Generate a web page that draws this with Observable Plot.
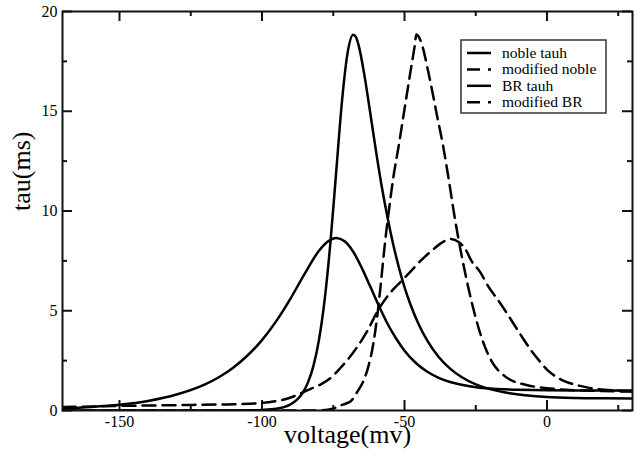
<!DOCTYPE html>
<html>
<head>
<meta charset="utf-8">
<script src="https://cdn.jsdelivr.net/npm/d3@7"></script>
<script src="https://cdn.jsdelivr.net/npm/@observablehq/plot@0.6"></script>
<style>
  html, body { margin: 0; padding: 0; background: #fff; }
  #chart { width: 636px; height: 453px; }
</style>
</head>
<body>
<div id="chart"></div>
<script>
// h-gate inactivation time constants (ms) against membrane voltage (mV)
const nobleV   = [-170,-160,-150,-140,-130,-120,-115,-110,-105,-100,-95,-90,-85,-80,-77,-74,-71,-68,-65,-62,-59,-56,-53,-50,-46,-42,-38,-34,-30,-25,-20,-15,-10,0,10,20,30];
const nobleTau = [0.11,0.18,0.29,0.48,0.80,1.31,1.68,2.16,2.77,3.53,4.48,5.61,6.86,8.01,8.46,8.65,8.48,7.96,7.15,6.21,5.25,4.36,3.62,3.00,2.38,1.94,1.64,1.43,1.29,1.17,1.10,1.06,1.04,1.01,1.00,1.00,1.00];

const modNobleV   = [-170,-150,-130,-115,-107,-100,-96,-91,-87.5,-83.5,-79.5,-76,-72.5,-67,-63,-59.5,-55,-51,-47,-44,-40.5,-37,-34,-31,-28.5,-26.5,-23.5,-20.5,-17.5,-14.5,-11.5,-8.5,-5.5,-2.5,0,3,6.5,10,14,18,24,30];
const modNobleTau = [0.17,0.23,0.27,0.30,0.32,0.38,0.45,0.60,0.79,1.05,1.30,1.62,2.13,3.10,4.00,4.97,5.90,6.50,7.10,7.55,8.00,8.40,8.60,8.45,8.05,7.50,6.95,6.20,5.60,4.97,4.30,3.63,3.00,2.46,2.05,1.71,1.45,1.29,1.16,1.07,1.00,0.96];

const brV   = [-170,-120,-105,-100,-95,-90,-88,-86,-84,-82,-80,-78,-76,-74,-72,-70,-68,-67,-66,-64,-62,-60,-58,-56,-54,-52,-50,-48,-45,-42,-38,-34,-30,-25,-20,-15,-10,-5,0,10,20,30];
const brTau = [0,0,0.01,0.03,0.09,0.31,0.51,0.83,1.36,2.21,3.55,5.57,8.40,11.9,15.4,17.9,18.84,18.71,18.25,16.75,14.9,13.0,11.24,9.71,8.35,7.19,6.19,5.35,4.31,3.50,2.68,2.10,1.68,1.31,1.07,0.91,0.80,0.73,0.68,0.63,0.61,0.60];

const modBrV   = [-170,-100,-85,-80,-77,-74.5,-72.5,-70.5,-68.8,-66.5,-64.5,-62.5,-61,-59.5,-58.2,-57,-55.5,-54,-52,-50,-48,-46.5,-45.8,-44,-41.7,-38.2,-36.5,-34.5,-32.3,-30,-27.6,-25.3,-22.9,-19.4,-14.7,-7.6,0,6.5,15,30];
const modBrTau = [0,0,0,0.01,0.04,0.12,0.25,0.35,0.47,0.95,1.45,2.3,3.3,4.8,6.5,8.2,10.0,11.6,13.3,15.1,16.9,18.2,18.85,18.4,17.0,14.5,13.3,11.6,9.6,7.8,6.15,4.8,3.63,2.46,1.71,1.29,1.12,1.04,0.99,0.95];

const seriesNames = ["noble tauh", "modified noble", "BR tauh", "modified BR"];

// axis ticks
const xMajor = [-150, -100, -50, 0];
const xMinor = [-125, -75, -25, 25];
const yMajor = [0, 5, 10, 15, 20];
const yMinor = [2.5, 7.5, 12.5, 17.5];

const W = 636, H = 453;
const M = {top: 11, right: 4, bottom: 43, left: 62};
const frameW = W - M.left - M.right;
const frameH = H - M.top - M.bottom;
const FONT = "Liberation Serif, Times New Roman, serif";
const DASH = "13,7";

const series = [
  {name: seriesNames[0], v: nobleV, tau: nobleTau, dash: null},
  {name: seriesNames[1], v: modNobleV, tau: modNobleTau, dash: DASH},
  {name: seriesNames[2], v: brV, tau: brTau, dash: null},
  {name: seriesNames[3], v: modBrV, tau: modBrTau, dash: DASH}
].map(s => ({...s, rows: s.v.map((v, i) => ({v, tau: s.tau[i]}))}));

const tickStyle = {stroke: "#111", strokeWidth: 2};

const chart = Plot.plot({
  width: W,
  height: H,
  marginTop: M.top,
  marginRight: M.right,
  marginBottom: M.bottom,
  marginLeft: M.left,
  style: {fontFamily: FONT, background: "#fff", color: "#000"},
  x: {domain: [-170, 30]},
  y: {domain: [0, 20]},
  marks: [
    // inward ticks on all four sides
    Plot.ruleX(xMajor, {x: d => d, insetTop: frameH - 10, ...tickStyle}),
    Plot.ruleX(xMinor, {x: d => d, insetTop: frameH - 5, ...tickStyle}),
    Plot.ruleX(xMajor, {x: d => d, insetBottom: frameH - 10, ...tickStyle}),
    Plot.ruleX(xMinor, {x: d => d, insetBottom: frameH - 5, ...tickStyle}),
    Plot.ruleY(yMajor, {y: d => d, insetRight: frameW - 10, ...tickStyle}),
    Plot.ruleY(yMinor, {y: d => d, insetRight: frameW - 5, ...tickStyle}),
    Plot.ruleY(yMajor, {y: d => d, insetLeft: frameW - 10, ...tickStyle}),
    Plot.ruleY(yMinor, {y: d => d, insetLeft: frameW - 5, ...tickStyle}),
    Plot.axisX(xMajor, {tickSize: 0, tickPadding: 5, fontSize: 16, label: null, tickFormat: d => String(d)}),
    Plot.axisY(yMajor, {tickSize: 0, tickPadding: 5, fontSize: 16, label: null, tickFormat: d => String(d)}),
    Plot.text(["voltage(mv)"], {frameAnchor: "bottom", dy: 32, fontSize: 26, fontFamily: FONT}),
    Plot.text(["tau(ms)"], {frameAnchor: "left", rotate: -90, dx: -41, fontSize: 26, fontFamily: FONT}),
    ...series.map(s => Plot.line(s.rows, {
      x: "v", y: "tau", curve: "monotone-x", stroke: "#000", strokeWidth: 2.5,
      strokeDasharray: s.dash, clip: true
    })),
    Plot.frame({stroke: "#111", strokeWidth: 2})
  ]
});

// legend box inside the upper-right corner of the frame
const svg = d3.select(chart);
const box = {x: 461, y: 40, w: 145, h: 73};
const legend = svg.append("g").attr("class", "legend");
legend.append("rect")
  .attr("x", box.x).attr("y", box.y).attr("width", box.w).attr("height", box.h)
  .attr("fill", "#fff").attr("stroke", "#333").attr("stroke-width", 1.5);
const item = legend.selectAll("g.item").data(series).join("g")
  .attr("class", "item")
  .attr("transform", (d, i) => `translate(${box.x + 6},${box.y + 13 + i * 16.4})`);
item.append("line")
  .attr("x1", 0).attr("x2", 24).attr("y1", 0).attr("y2", 0)
  .attr("stroke", "#000").attr("stroke-width", 2.5)
  .attr("stroke-dasharray", d => d.dash ? "13,8" : null);
item.append("text")
  .attr("x", 35).attr("y", 0).attr("dy", "0.32em")
  .attr("text-anchor", "start")
  .attr("font-family", FONT).attr("font-size", 15.5)
  .attr("fill", "#000")
  .text(d => d.name);

document.getElementById("chart").appendChild(chart);
</script>
</body>
</html>
